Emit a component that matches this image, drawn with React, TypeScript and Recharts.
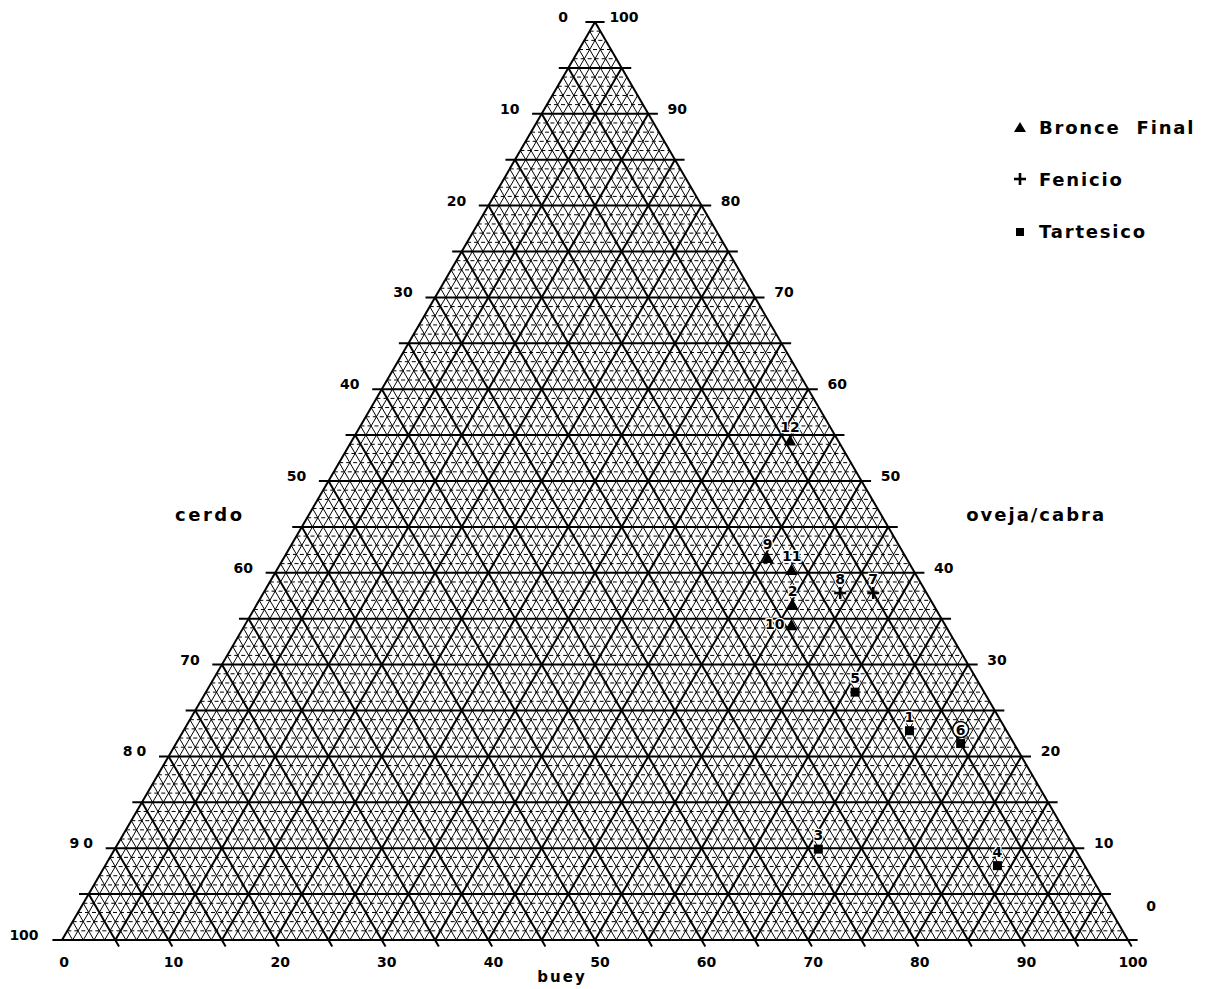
import React from "react";
import { ScatterChart, Scatter, XAxis, YAxis, ReferenceLine } from "recharts";

// ternary readings (percent): buey (bottom), oveja/cabra (right), cerdo = rest
const bronceNames = ["12", "9", "11", "2", "10"];
const bronceBuey = [41.1, 45.4, 48.3, 50.3, 51.3];
const bronceOveja = [54.4, 41.6, 40.3, 36.5, 34.3];

const fenicioNames = ["8", "7"];
const fenicioBuey = [54.1, 57.2];
const fenicioOveja = [37.8, 37.8];

const tartesicoNames = ["5", "1", "6", "3", "4"];
const tartesicoBuey = [60.9, 68.1, 73.6, 66.0, 83.7];
const tartesicoOveja = [27.0, 22.8, 21.4, 9.9, 8.1];

const tickValues = [0, 10, 20, 30, 40, 50, 60, 70, 80, 90, 100];
const legendItems = ["Bronce  Final", "Fenicio", "Tartesico"];

// chart frame
const CW = 1200;
const CH = 978;
const PX_X = 10.66; // px per unit, horizontal
const PX_Y = 9.18; // px per unit, vertical
const X0 = -54 / PX_X;
const X1 = X0 + CW / PX_X;
const Y1 = 100 + 14 / PX_Y;
const Y0 = Y1 - CH / PX_Y;

const FONT = "'DejaVu Sans', sans-serif";

const toXY = (buey: number, oveja: number) => ({ x: buey + oveja / 2, y: oveja });

const build = (names: string[], buey: number[], oveja: number[]) =>
  names.map((n, i) => ({ name: n, ...toXY(buey[i], oveja[i]) }));

const bronceData = build(bronceNames, bronceBuey, bronceOveja);
const fenicioData = build(fenicioNames, fenicioBuey, fenicioOveja);
const tartesicoData = build(tartesicoNames, tartesicoBuey, tartesicoOveja);

// label anchors computed from tick values
type Lbl = { x: number; y: number; text: string; dx: number; dy: number; size: number; ls?: number };
const labels: Lbl[] = [];
tickValues.forEach((v) => {
  // left side (cerdo): 0 at top, 100 at bottom-left
  const ovL = 100 - v;
  labels.push({ x: ovL / 2, y: ovL, text: String(v), dx: v === 100 ? -38 : -32, dy: 0, size: 14, ls: v === 90 || v === 80 ? 4 : 0 });
  // right side (oveja/cabra)
  if (v === 0) {
    labels.push({ x: 100, y: 0, text: "0", dx: 23, dy: -29, size: 14 });
  } else {
    labels.push({ x: 100 - v / 2, y: v, text: String(v), dx: 29, dy: 0, size: 14 });
  }
  // bottom (buey)
  labels.push({ x: v, y: 0, text: String(v), dx: v === 0 ? 2 : 5, dy: 27, size: 14 });
});
labels.push({ x: 50, y: 0, text: "buey", dx: -33, dy: 42, size: 15, ls: 2 });
labels.push({ x: 22.5, y: 45, text: "cerdo", dx: -92, dy: -6, size: 18, ls: 2.5 });
labels.push({ x: 77.5, y: 45, text: "oveja/cabra", dx: 148, dy: -6, size: 18, ls: 2 });

// grid segments
type Seg = { a: { x: number; y: number }; b: { x: number; y: number }; major: boolean; horiz: boolean };
const segs: Seg[] = [];
const EXT = 0.9;
for (let k = 0; k <= 100; k++) {
  const major = k % 5 === 0;
  // constant oveja (horizontal)
  const e = major ? EXT : 0;
  if (k < 100 || major) {
    segs.push({ a: { x: k / 2 - e, y: k }, b: { x: 100 - k / 2 + e, y: k }, major, horiz: true });
  }
  // constant buey
  if (k < 100) segs.push({ a: { x: k, y: 0 }, b: { x: k + (100 - k) / 2, y: 100 - k }, major, horiz: false });
  // constant cerdo (buey + oveja = k), with a short tick under the base
  if (k > 0) {
    const startY = major ? -0.7 : 0;
    segs.push({ a: { x: k - startY / 2, y: startY }, b: { x: k / 2, y: k }, major, horiz: false });
  }
}

const PointShape = (kind: "tri" | "plus" | "sq") => (props: any) => {
  const { cx, cy, payload } = props;
  const name: string = payload.name;
  const left = name === "10";
  const tx = left ? cx - 17 : cx;
  const ty = left ? cy + 4 : cy - 9;
  let marker: React.ReactNode = null;
  if (kind === "tri") {
    marker = <path d={`M${cx},${cy - 6} L${cx + 6},${cy + 5} L${cx - 6},${cy + 5} Z`} fill="#000" />;
  } else if (kind === "plus") {
    marker = (
      <g stroke="#000" strokeWidth={2.6}>
        <line x1={cx - 6} y1={cy} x2={cx + 6} y2={cy} />
        <line x1={cx} y1={cy - 6} x2={cx} y2={cy + 6} />
      </g>
    );
  } else {
    marker = <rect x={cx - 4.5} y={cy - 4.5} width={9} height={9} fill="#000" />;
  }
  return (
    <g>
      {marker}
      {name === "6" && <circle cx={tx} cy={ty - 5} r={8} fill="#fff" stroke="#000" strokeWidth={1.5} />}
      <text x={tx} y={ty} textAnchor="middle" fontFamily={FONT} fontWeight="bold" fontSize={14} fill="#000"
        stroke="#fff" strokeWidth={2.5} paintOrder="stroke">
        {name}
      </text>
    </g>
  );
};

const LabelShape = (props: any) => {
  const { cx, cy, payload } = props;
  return (
    <text x={cx + payload.dx} y={cy + payload.dy} textAnchor="middle" fontFamily={FONT} fontWeight="bold"
      fontSize={payload.size} letterSpacing={payload.ls || 0} fill="#000">
      {payload.text}
    </text>
  );
};

const LegendMarker = ({ i }: { i: number }) => (
  <svg width={14} height={14} style={{ marginRight: 12 }}>
    {i === 0 && <path d="M7,2 L13,12 L1,12 Z" fill="#000" />}
    {i === 1 && (
      <g stroke="#000" strokeWidth={2.6}>
        <line x1={1} y1={7} x2={13} y2={7} />
        <line x1={7} y1={1} x2={7} y2={13} />
      </g>
    )}
    {i === 2 && <rect x={3} y={4} width={8} height={8} fill="#000" />}
  </svg>
);

export default function App() {
  return (
    <div style={{ position: "relative", width: CW, height: CH, background: "#fff" }}>
      <ScatterChart width={CW} height={CH} margin={{ top: 0, right: 0, bottom: 0, left: 0 }}>
        <XAxis type="number" dataKey="x" domain={[X0, X1]} allowDataOverflow hide />
        <YAxis type="number" dataKey="y" domain={[Y0, Y1]} allowDataOverflow hide />
        {segs.map((s, i) => (
          <ReferenceLine
            key={i}
            segment={[s.a, s.b]}
            stroke="#000"
            strokeWidth={s.major ? 2 : 1}
            strokeDasharray={!s.major && s.horiz ? "4 3" : undefined}
            ifOverflow="visible"
          />
        ))}
        <Scatter name="labels" data={labels} shape={LabelShape} isAnimationActive={false} />
        <Scatter name="Bronce Final" data={bronceData} shape={PointShape("tri")} isAnimationActive={false} />
        <Scatter name="Fenicio" data={fenicioData} shape={PointShape("plus")} isAnimationActive={false} />
        <Scatter name="Tartesico" data={tartesicoData} shape={PointShape("sq")} isAnimationActive={false} />
      </ScatterChart>
      <div style={{ position: "absolute", left: 1005, top: 106, fontFamily: FONT, fontWeight: "bold", fontSize: 18 }}>
        {legendItems.map((t, i) => (
          <div key={t} style={{ display: "flex", alignItems: "center", height: 26, marginBottom: 26, letterSpacing: 1.8, whiteSpace: "pre" }}>
            <LegendMarker i={i} />
            <span>{t}</span>
          </div>
        ))}
      </div>
    </div>
  );
}
